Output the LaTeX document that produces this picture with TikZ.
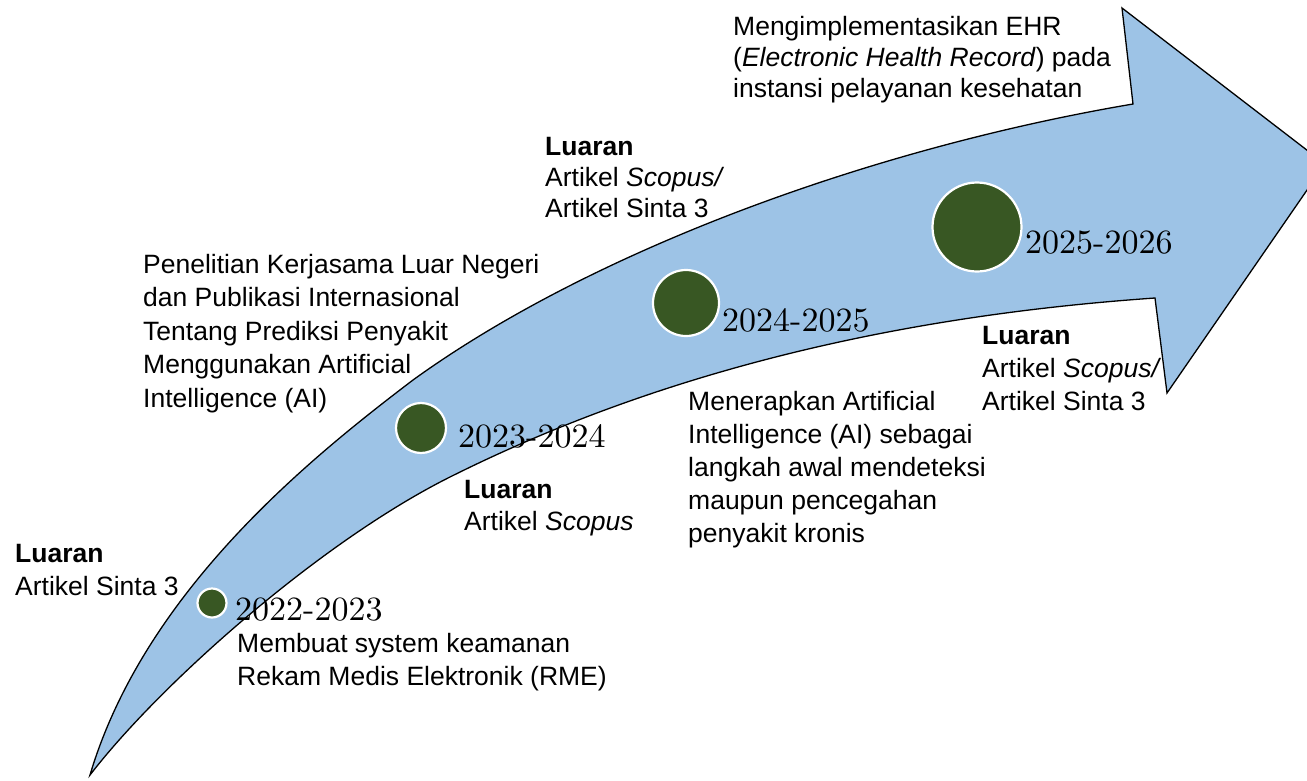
\documentclass[tikz,border=0pt]{standalone}
\usepackage{fontspec}
\newfontfamily\arialfont{Liberation Sans}
\newfontfamily\yearfont{lmroman10-regular.otf}
\definecolor{arrowblue}{RGB}{157,195,230}
\definecolor{dotgreen}{RGB}{56,87,35}
\newcommand{\mlines}[1]{\vtop{\halign{##\hfil\cr#1\crcr}}}
\tikzset{
  txt/.style={anchor=base west, inner sep=0pt, font=\arialfont\fontsize{26.5}{33}\selectfont},
  txtb/.style={anchor=base west, inner sep=0pt, font=\arialfont\fontsize{26.5}{31}\selectfont},
  yr/.style={anchor=base west, inner sep=0pt, font=\yearfont\fontsize{34}{40}\selectfont},
  dot/.style={circle, fill=dotgreen, draw=white, line width=2.2pt, inner sep=0pt},
  bigarrow/.style={fill=arrowblue, draw=black, line width=1.3pt, line join=miter}
}
\begin{document}
\begin{tikzpicture}[x=1pt,y=-1pt]
\useasboundingbox (0,0) rectangle (1307,780);
% arrow
\coordinate (tail) at (90,775);
\coordinate (un) at (1133,104);
\coordinate (ub) at (1122,8);
\coordinate (tip) at (1325,164);
\coordinate (lb) at (1167,393);
\coordinate (ln) at (1155,298);
\draw[bigarrow] (tail) .. controls (145,590) and (313,456) .. (413,380)
  .. controls (593,250) and (873,148) .. (un) -- (ub) -- (tip) -- (lb) -- (ln)
  .. controls (925,314) and (680,362) .. (450,477)
  .. controls (320,542) and (160,684) .. (tail) -- cycle;
% dots
\node[dot, minimum size=29pt] (d1) at (212,603) {};
\node[dot, minimum size=50pt] (d2) at (421,428) {};
\node[dot, minimum size=66pt] (d3) at (686,303) {};
\node[dot, minimum size=89pt] (d4) at (977,227) {};
% years
\node[yr] (y1) at (235,620) {2022-2023};
\node[yr] (y2) at (458,447) {2023-2024};
\node[yr] (y3) at (722,331) {2024-2025};
\node[yr] (y4) at (1025,253) {2025-2026};
% texts
\node[txtb] (t1) at (733,35) {\mlines{Mengimplementasikan EHR\cr (\textit{Electronic Health Record}) pada\cr instansi pelayanan kesehatan}};
\node[txtb] (t2) at (545,155) {\mlines{\textbf{Luaran}\cr Artikel \textit{Scopus/}\cr Artikel Sinta 3}};
\node[txt, font=\arialfont\fontsize{26.5}{33.5}\selectfont] (t3) at (143,273) {\mlines{Penelitian Kerjasama Luar Negeri\cr dan Publikasi Internasional\cr Tentang Prediksi Penyakit\cr Menggunakan Artificial\cr Intelligence (AI)}};
\node[txt] (t4) at (15,562) {\mlines{\textbf{Luaran}\cr Artikel Sinta 3}};
\node[txt] (t5) at (237,652) {\mlines{Membuat system keamanan\cr Rekam Medis Elektronik (RME)}};
\node[txt, font=\arialfont\fontsize{26.5}{32}\selectfont] (t6) at (464,498) {\mlines{\textbf{Luaran}\cr Artikel \textit{Scopus}}};
\begin{scope}
\clip (600,370) rectangle (1000,548);
\node[txt] (t7) at (688,410) {\mlines{Menerapkan Artificial\cr Intelligence (AI) sebagai\cr langkah awal mendeteksi\cr maupun pencegahan\cr penyakit kronis}};
\end{scope}
\node[txt] (t8) at (982,344) {\mlines{\textbf{Luaran}\cr Artikel \textit{Scopus/}\cr Artikel Sinta 3}};
\end{tikzpicture}
\end{document}
